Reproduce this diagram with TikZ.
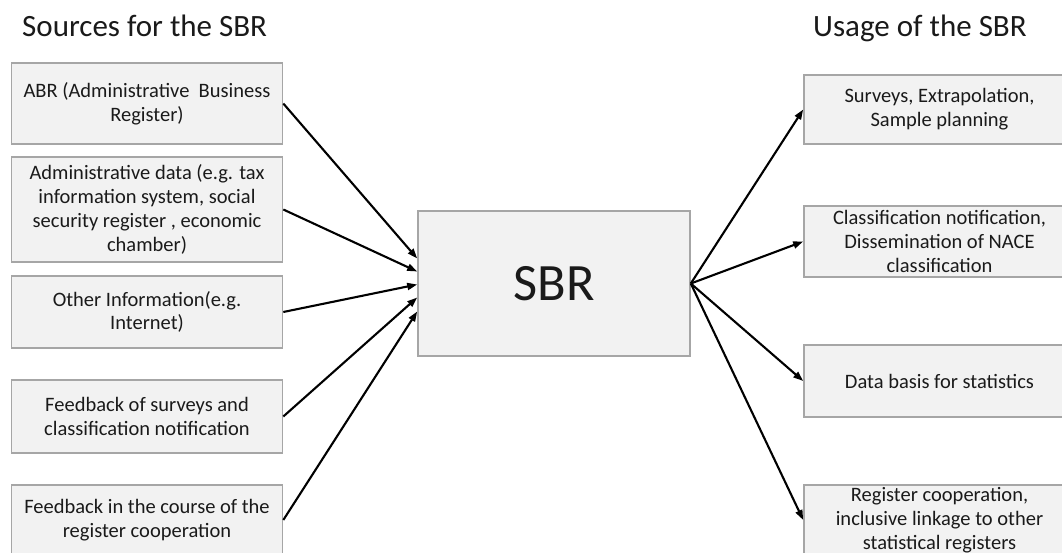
\documentclass[tikz,border=0pt]{standalone}
\usepackage{fontspec}
\setmainfont{Carlito}
\usetikzlibrary{arrows.meta}
\definecolor{boxfill}{HTML}{F2F2F2}
\definecolor{boxline}{HTML}{A6A6A6}
\definecolor{ink}{HTML}{1A1A1A}
\begin{document}
\begin{tikzpicture}[x=1pt,y=-1pt,
  box/.style={draw=boxline, fill=boxfill, line width=1.6pt, minimum width=271pt,
    align=center, inner sep=2pt, text=ink, font=\fontsize{20.5}{23.8}\selectfont},
  hub/.style={box, minimum width=272pt, minimum height=145pt, font=\fontsize{52.5}{60}\selectfont},
  title/.style={anchor=base west, inner sep=0pt, text=ink, font=\fontsize{31}{36}\selectfont},
  arr/.style={draw=black, line width=2.1pt, -{Triangle[length=10pt,width=7pt]}}]
\clip (0,0) rectangle (1062,553);
\fill[white] (0,0) rectangle (1062,553);

% headings
\node[title] (tsrc) at (22,37) {Sources for the SBR};
\node[title] (tuse) at (813,37) {Usage of the SBR};

% source boxes
\node[box, minimum height=81pt]  (s1) at (147,103.5) {ABR (Administrative\ \ Business\\Register)};
\node[box, minimum height=105pt] (s2) at (147,209.5) {Administrative data (e.g. tax\\information system, social\\security register , economic\\chamber)};
\node[box, minimum height=72pt]  (s3) at (147,312)   {Other Information(e.g.\\Internet)};
\node[box, minimum height=73pt]  (s4) at (147,416.5) {Feedback of surveys and\\classification notification};
\node[box, minimum height=70pt]  (s5) at (147,520)   {Feedback in the course of the\\register cooperation};

% central register
\node[hub] (sbr) at (554,283.5) {SBR};

% usage boxes
\node[box, minimum height=69pt] (u1) at (939.5,109.5) {Surveys, Extrapolation,\\Sample planning};
\node[box, minimum height=71pt] (u2) at (939.5,241.5) {Classification notification,\\Dissemination of NACE\\classification};
\node[box, minimum height=72pt] (u3) at (939.5,381)   {Data basis for statistics};
\node[box, minimum height=70pt] (u4) at (939.5,520)   {Register cooperation,\\inclusive linkage to other\\statistical registers};

% inputs
\draw[arr] (s1.east) -- ([yshift=25pt]sbr.west);
\draw[arr] (s2.east) -- ([yshift=12pt]sbr.west);
\draw[arr] (s3.east) -- ([yshift=-1pt]sbr.west);
\draw[arr] (s4.east) -- ([yshift=-14pt]sbr.west);
\draw[arr] (s5.east) -- ([yshift=-28pt]sbr.west);

% outputs
\draw[arr] (sbr.east) -- (u1.west);
\draw[arr] (sbr.east) -- (u2.west);
\draw[arr] (sbr.east) -- (u3.west);
\draw[arr] (sbr.east) -- (u4.west);
\end{tikzpicture}
\end{document}
